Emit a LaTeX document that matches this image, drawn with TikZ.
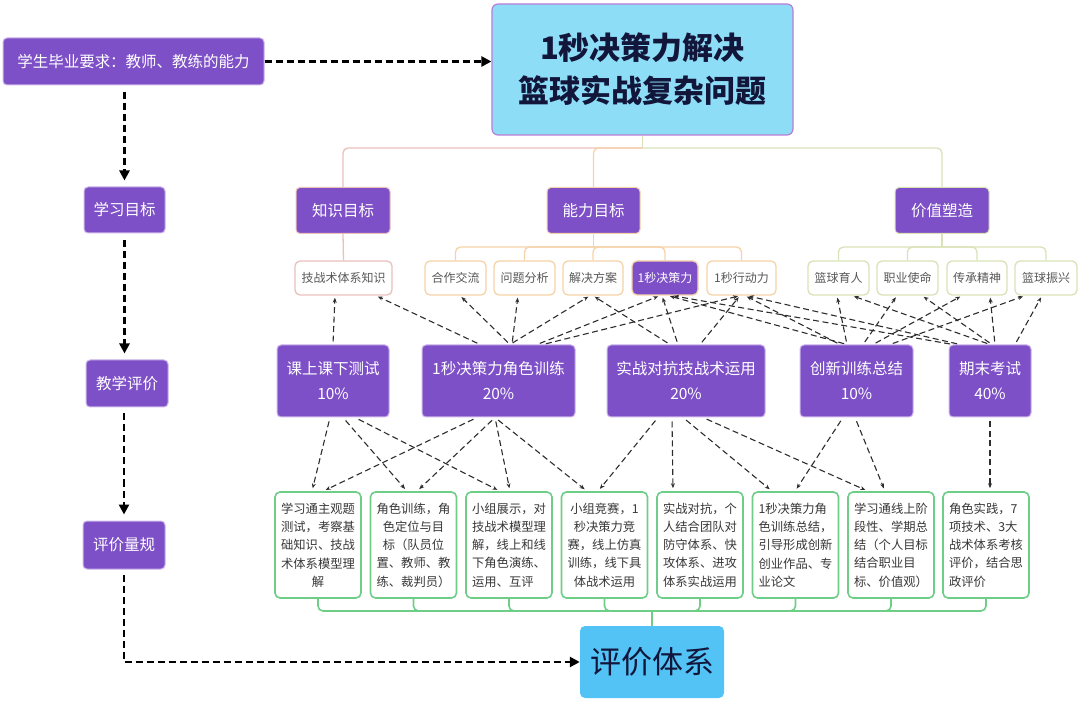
\documentclass[tikz,border=0pt]{standalone}
\usepackage{fontspec}
\setmainfont{Noto Sans CJK SC}
\usetikzlibrary{arrows.meta}
\definecolor{purp}{RGB}{126,80,199}
\definecolor{purpE}{RGB}{205,180,235}
\definecolor{mainblue}{RGB}{142,221,247}
\definecolor{mainB}{RGB}{185,125,215}
\definecolor{navy}{RGB}{18,22,58}
\definecolor{pjblue}{RGB}{83,195,245}
\definecolor{gr}{RGB}{110,206,136}
\definecolor{pinkL}{RGB}{234,192,187}
\definecolor{orL}{RGB}{246,210,168}
\definecolor{grL}{RGB}{216,226,182}
\definecolor{minitext}{RGB}{88,88,88}
\definecolor{dtext}{RGB}{55,55,55}
\definecolor{arr}{RGB}{45,45,45}
\begin{document}
\begin{tikzpicture}[x=1pt,y=-1pt,
  pbox/.style={rounded corners=4pt, fill=purp, draw=purpE, line width=1pt, text=white,
    inner sep=0pt, align=center, font=\fontsize{15.5}{25}\selectfont},
  mainbox/.style={rounded corners=6pt, fill=mainblue, draw=mainB, line width=1.2pt,
    inner sep=0pt, align=center, text=navy, font=\bfseries\fontsize{31}{43}\selectfont},
  mini/.style={rounded corners=5pt, fill=white, line width=1.3pt, inner sep=0pt,
    minimum height=34pt, text=minitext, font=\fontsize{12}{14}\selectfont},
  gbox/.style={rounded corners=5pt, draw=gr, line width=1.6pt, fill=white,
    minimum width=86pt, minimum height=106pt, inner sep=0pt, text=dtext,
    font=\fontsize{12.3}{18.3}\selectfont},
  upar/.style={draw=arr, line width=1.1pt, dash pattern=on 6pt off 3.5pt,
    -{Stealth[length=5pt,width=4pt]}, shorten <=3pt, shorten >=2pt},
  dnar/.style={draw=arr, line width=1.1pt, dash pattern=on 6pt off 3.5pt,
    -{Stealth[length=5pt,width=4pt]}, shorten <=4pt, shorten >=3pt},
  bigar/.style={draw=black, line width=2.6pt, dash pattern=on 7pt off 4pt,
    -{Triangle[length=10pt,width=10pt]}},
  tree/.style={line width=1.3pt, rounded corners=5pt}
]
\useasboundingbox (0,0) rectangle (1080,703);

% top row
\node[pbox, minimum width=261pt, minimum height=47pt] (req) at (133.5,61.5) {学生毕业要求：教师、教练的能力};
\node[mainbox, minimum width=301pt, minimum height=131pt] (main) at (642.5,69.5) {1秒决策力解决\\篮球实战复杂问题};

% left column
\node[pbox, minimum width=81pt, minimum height=46pt] (xxmb) at (124.5,210) {学习目标};
\node[pbox, minimum width=82pt, minimum height=47pt] (jxpj) at (127,383.5) {教学评价};
\node[pbox, minimum width=82pt, minimum height=48pt] (pjlg) at (124,545) {评价量规};

% second row
\node[pbox, draw=pinkL, minimum width=94pt, minimum height=46pt] (zs) at (343,210.5) {知识目标};
\node[pbox, draw=orL, minimum width=93pt, minimum height=46pt] (nl) at (593.5,210.5) {能力目标};
\node[pbox, draw=grL, minimum width=94pt, minimum height=46pt] (vz) at (942,210.5) {价值塑造};

% third row
\node[mini, draw=pinkL, minimum width=97pt] (k1) at (343.5,278) {技战术体系知识};
\node[mini, draw=orL, minimum width=61pt] (a1) at (455.5,278) {合作交流};
\node[mini, draw=orL, minimum width=61pt] (a2) at (524.5,278) {问题分析};
\node[mini, draw=orL, minimum width=60pt] (a3) at (593,278) {解决方案};
\node[mini, draw=orL, fill=purp, text=white, minimum width=66pt] (a4) at (665,278) {1秒决策力};
\node[mini, draw=orL, minimum width=69pt] (a5) at (741.5,278) {1秒行动力};
\node[mini, draw=grL, minimum width=61pt] (v1) at (838.5,278) {篮球育人};
\node[mini, draw=grL, minimum width=61pt] (v2) at (907.5,278) {职业使命};
\node[mini, draw=grL, minimum width=60pt] (v3) at (977,278) {传承精神};
\node[mini, draw=grL, minimum width=62pt] (v4) at (1046,278) {篮球振兴};

% fourth row
\node[pbox, minimum width=112pt, minimum height=72pt] (cs) at (333,381) {课上课下测试\\10\%};
\node[pbox, minimum width=153pt, minimum height=72pt] (js) at (498.5,381) {1秒决策力角色训练\\20\%};
\node[pbox, minimum width=158pt, minimum height=72pt] (sz) at (686,381) {实战对抗技战术运用\\20\%};
\node[pbox, minimum width=113pt, minimum height=72pt] (cx) at (856.5,381) {创新训练总结\\10\%};
\node[pbox, minimum width=82pt, minimum height=72pt] (qm) at (990,381) {期末考试\\40\%};

% fifth row
\node[gbox, align=center] (b1) at (318,545) {学习通主观题\\测试，考察基\\础知识、技战\\术体系模型理\\解};
\node[gbox, align=center] (b2) at (413.5,545) {角色训练，角\\色定位与目\\标（队员位\\置、教师、教\\练、裁判员）};
\node[gbox, align=left] (b3) at (509,545) {小组展示，对\\技战术模型理\\解，线上和线\\下角色演练、\\运用、互评};
\node[gbox, align=center] (b4) at (604.5,545) {小组竞赛，1\\秒决策力竞\\赛，线上仿真\\训练，线下具\\体战术运用};
\node[gbox, align=left] (b5) at (700,545) {实战对抗，个\\人结合团队对\\防守体系、快\\攻体系、进攻\\体系实战运用};
\node[gbox, align=left] (b6) at (795.5,545) {1秒决策力角\\色训练总结，\\引导形成创新\\创业作品、专\\业论文};
\node[gbox, align=left] (b7) at (891,545) {学习通线上阶\\段性、学期总\\结（个人目标\\结合职业目\\标、价值观）};
\node[gbox, align=left] (b8) at (986,545) {角色实践，7\\项技术、3大\\战术体系考核\\评价，结合思\\政评价};

% bottom
\node[rounded corners=5pt, fill=pjblue, inner sep=0pt, minimum width=144pt, minimum height=72pt,
  text=navy, font=\fontsize{31}{36}\selectfont] (pjtx) at (652,662) {评价体系};

% tree junctions
\coordinate (tj) at (642.5,148);
\coordinate (aj) at (593.5,247);
\coordinate (vj) at (942,247);
\coordinate (bj) at (652,611);

% top tree
\draw[tree, grL] (main.south) -- (tj);
\draw[tree, pinkL] (tj) -| (zs.north);
\draw[tree, orL] (tj) -| (nl.north);
\draw[tree, grL] (tj) -| (vz.north);
% second-level trees
\draw[tree, pinkL] (zs.south) -- (k1.north);
\draw[tree, orL] (nl.south) -- (aj);
\foreach \n in {a1,a2,a3,a4,a5} \draw[tree, orL] (aj) -| (\n.north);
\draw[tree, grL] (vz.south) -- (vj);
\foreach \n in {v1,v2,v3,v4} \draw[tree, grL] (vj) -| (\n.north);
% bottom tree
\foreach \n in {b1,b2,b3,b4,b5,b6,b7,b8} \draw[tree, gr, line width=1.6pt] (\n.south) |- (bj);
\draw[gr, line width=1.6pt] (bj) -- (pjtx.north);

% left dashed arrows
\draw[bigar] (req.east) -- (req.east -| main.west);
\draw[bigar, shorten <=7pt, shorten >=6pt] (xxmb.north |- req.south) -- (xxmb.north);
\draw[bigar, shorten <=7pt, shorten >=6pt] (xxmb.south) -- (xxmb.south |- jxpj.north);
\draw[bigar, shorten <=6pt, shorten >=6pt] (pjlg.north |- jxpj.south) -- (pjlg.north);
\draw[bigar, shorten <=5pt] (pjlg.south) |- (pjtx.west);

% up arrows (evaluation -> objectives)
\foreach \s/\sx/\e/\ex in {cs/0/k1/-8.5, js/-18.5/k1/32.5, js/11.5/a1/4.5, js/13.5/a2/-6.5,
  js/11.5/a3/-3, js/38.5/a4/-5, js/44.5/a5/-1.5, sz/-16/a3/0, sz/-8/a4/-3, sz/14/a5/-1.5,
  cx/-9.5/a4/3, cx/-16.5/a5/3.5, cx/-9.5/v1/-1.5, cx/6.5/v2/-10.5, cx/16.5/v3/-15,
  cx/33.5/v4/-21, qm/-37/a4/7, qm/-30/a5/5.5, qm/0/v1/13.5, qm/2/v2/14.5, qm/5/v3/13,
  qm/25/v4/-4}
  \draw[upar] ([xshift=\sx pt]\s.north) -- ([xshift=\ex pt]\e.south);

% down arrows (evaluation -> rubrics)
\foreach \s/\sx/\e/\ex in {cs/-3/b1/-6, cs/10/b2/-6.5, cs/22/b3/-9, js/-21.5/b1/5,
  js/-3.5/b2/3.5, js/-3.5/b3/1, js/-3.5/b4/-17.5, sz/-28/b4/-6.5, sz/-14/b5/-27,
  sz/-3/b6/-23.5, sz/17/b7/-23, cx/-13.5/b6/-0.5, cx/-1.5/b7/-6, qm/0/b8/4}
  \draw[dnar] ([xshift=\sx pt]\s.south) -- ([xshift=\ex pt]\e.north);
\end{tikzpicture}
\end{document}
